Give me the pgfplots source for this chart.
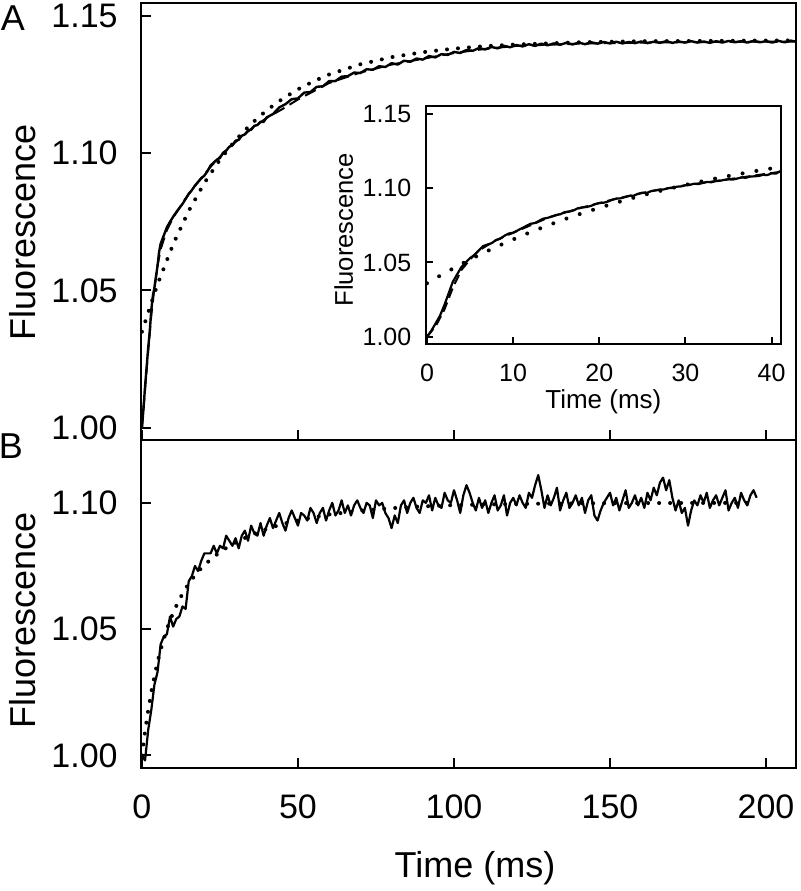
\documentclass[border=0pt]{standalone}
\usepackage{fontspec}
\setmainfont{Liberation Sans}
\usepackage{pgfplots}
\pgfplotsset{compat=1.18}
\pgfplotsset{
  common/.style={
    scale only axis,
    axis line style={line width=1pt},
    every tick/.style={line width=1pt, black},
    tick align=inside,
    xtick pos=bottom, ytick pos=left,
    /pgf/number format/assume math mode=true,
    yticklabel style={/pgf/number format/fixed, /pgf/number format/fixed zerofill, /pgf/number format/precision=2},
    clip=true,
  },
  dat/.style={black, line width=1.2pt, line join=round},
  fitd/.style={black, line width=1pt, dash pattern=on 6pt off 3pt},
  dots/.style={black, line width=2pt, line cap=round, dash pattern=on 0pt off 5.5pt},
}
\begin{document}
\begin{tikzpicture}
\useasboundingbox (0,0) rectangle (400pt,445.5pt);
% ---------------- Panel B ----------------
\begin{axis}[common,
  at={(70.5pt,61.5pt)}, anchor=south west,
  width=327.5pt, height=164pt,
  xmin=-0.3, xmax=209.6, ymin=0.995, ymax=1.1249,
  xtick={0,50,100,150,200}, ytick={1.00,1.05,1.10},
  major tick length=5pt,
  xticklabel style={font=\fontsize{17}{20}\selectfont, anchor=center, yshift=-19.5pt},
  yticklabel style={font=\fontsize{17}{20}\selectfont, anchor=east, inner sep=0pt, xshift=-11.5pt},
  xlabel={Time (ms)}, ylabel={Fluorescence},
  xlabel style={font=\fontsize{18}{21}\selectfont, at={(axis description cs:0.51,0)}, anchor=center, yshift=-50pt},
  ylabel style={font=\fontsize{18}{21}\selectfont, at={(axis description cs:-0.18,0.451)}, anchor=center},
]
\addplot[dots] coordinates {(0,1.000)(1,1.0095)(2,1.0178)(3,1.0251)(4,1.0313)(5,1.0369)(6,1.0419)(8,1.0501)(10,1.0565)(12,1.0618)(14,1.0661)(16,1.0697)(18,1.0728)(20,1.0754)(23,1.0786)(26,1.0814)(30,1.0843)(35,1.0873)(40,1.0897)(45,1.0916)(50,1.0931)(60,1.0954)(70,1.0969)(80,1.0979)(90,1.0986)(100,1.0991)(120,1.0996)(150,1.0999)(197,1.1000)};
\addplot[black, line width=1.1pt, line join=round] coordinates {
(0,1.000)(1,0.998)(2,1.010)(3,1.018)(4,1.028)(5,1.033)(6,1.044)(7,1.047)(8,1.048)(9,1.055)
(10,1.051)(11,1.054)(12,1.055)(13,1.059)(14,1.058)(15,1.069)(16,1.071)(17,1.075)(18,1.073)(19,1.077)
(20,1.080)(21,1.080)(22,1.080)(23,1.083)(24,1.080)(25,1.083)(26,1.082)(27,1.087)(28,1.085)(29,1.083)
(30,1.086)(31,1.082)(32,1.087)(33,1.089)(34,1.085)(35,1.091)(36,1.088)(37,1.087)(38,1.092)(39,1.087)
(40,1.091)(41,1.094)(42,1.090)(43,1.093)(44,1.096)(45,1.092)(46,1.089)(47,1.094)(48,1.097)(49,1.094)
(50,1.091)(51,1.096)(52,1.095)(53,1.093)(54,1.098)(55,1.096)(56,1.092)(57,1.096)(58,1.098)(59,1.093)
(60,1.097)(61,1.100)(62,1.095)(63,1.097)(64,1.101)(65,1.096)(66,1.099)(67,1.095)(68,1.099)(69,1.101)
(70,1.098)(71,1.096)(72,1.100)(73,1.099)(74,1.094)(75,1.101)(76,1.099)(77,1.100)(78,1.096)(79,1.094)
(80,1.090)(81,1.095)(82,1.092)(83,1.099)(84,1.101)(85,1.096)(86,1.100)(87,1.102)(88,1.098)(89,1.096)
(90,1.101)(91,1.100)(92,1.103)(93,1.097)(94,1.102)(95,1.099)(96,1.098)(97,1.104)(98,1.101)(99,1.100)
(100,1.105)(101,1.101)(102,1.096)(103,1.103)(104,1.107)(105,1.104)(106,1.100)(107,1.097)(108,1.102)(109,1.098)
(110,1.101)(111,1.096)(112,1.100)(113,1.103)(114,1.097)(115,1.099)(116,1.103)(117,1.095)(118,1.100)(119,1.102)
(120,1.099)(121,1.103)(122,1.100)(123,1.098)(124,1.104)(125,1.102)(126,1.107)(127,1.111)(128,1.105)(129,1.098)
(130,1.103)(131,1.099)(132,1.102)(133,1.106)(134,1.097)(135,1.101)(136,1.104)(137,1.098)(138,1.100)(139,1.103)
(140,1.099)(141,1.102)(142,1.096)(143,1.101)(144,1.103)(145,1.095)(146,1.093)(147,1.097)(148,1.100)(149,1.102)
(150,1.104)(151,1.099)(152,1.102)(153,1.097)(154,1.101)(155,1.105)(156,1.098)(157,1.100)(158,1.103)(159,1.099)
(160,1.102)(161,1.098)(162,1.104)(163,1.101)(164,1.106)(165,1.103)(166,1.108)(167,1.110)(168,1.105)(169,1.109)
(170,1.102)(171,1.097)(172,1.101)(173,1.096)(174,1.098)(175,1.091)(176,1.097)(177,1.101)(178,1.099)(179,1.103)
(180,1.100)(181,1.104)(182,1.098)(183,1.101)(184,1.103)(185,1.099)(186,1.102)(187,1.105)(188,1.097)(189,1.100)
(190,1.102)(191,1.098)(192,1.104)(193,1.101)(194,1.099)(195,1.103)(196,1.105)(197,1.102)};
\end{axis}
% ---------------- Panel A ----------------
\begin{axis}[common,
  at={(70.5pt,225.5pt)}, anchor=south west,
  width=327.5pt, height=218.5pt,
  xmin=-0.3, xmax=209.6, ymin=0.9956, ymax=1.1546,
  xtick={0,50,100,150,200}, xticklabels={},
  ytick={1.00,1.05,1.10,1.15},
  major tick length=5pt,
  yticklabel style={font=\fontsize{17}{20}\selectfont, anchor=east, inner sep=0pt, xshift=-11.5pt},
  ylabel={Fluorescence},
  ylabel style={font=\fontsize{18}{21}\selectfont, at={(axis description cs:-0.18,0.474)}, anchor=center},
]
\addplot[dots] coordinates {(0,1.035)(5,1.0523)(10,1.0668)(15,1.0790)(20,1.0891)(25,1.0976)(30,1.1047)(35,1.1106)(40,1.1156)(45,1.1197)(50,1.1232)(55,1.1261)(60,1.1286)(70,1.1323)(80,1.1349)(90,1.1367)(100,1.1380)(110,1.1389)(120,1.1395)(140,1.1403)(160,1.1407)(180,1.1408)(210,1.1410)};
\addplot[fitd] coordinates {(0,1.000)(1,1.014)(2,1.028)(3,1.041)(4,1.051)(5,1.059)(6,1.065)(8,1.072)(10,1.0765)(14,1.0835)(18,1.0895)(22,1.095)(26,1.0998)(30,1.104)(35,1.1088)(40,1.1128)(45,1.116)(50,1.1195)(55,1.1225)(60,1.1255)(70,1.1293)(80,1.1322)(90,1.1343)(100,1.1364)(110,1.1379)(120,1.139)(140,1.1398)(160,1.1402)(180,1.1404)(210,1.1406)};
\addplot[dat] coordinates {
(0,1.000)(0.5,1.007)(1,1.015)(1.5,1.022)(2,1.029)(2.5,1.035)(3,1.043)(3.5,1.048)(4,1.051)(4.5,1.055)(5,1.059)(5.5,1.064)(6,1.067)(7,1.070)(8,1.073)(9,1.075)(10,1.0768)(11,1.0785)(12,1.080)(13,1.0815)(14,1.0833)(15,1.0852)(16,1.0865)(17,1.0882)(18,1.0895)(19,1.0908)
(20,1.0918)(21,1.0934)(22,1.0955)(23,1.0965)(24,1.0976)(25,1.0982)(26,1.1001)(27,1.1009)(28,1.1023)(29,1.1028)(30,1.1045)(31,1.1048)(32,1.1063)(33,1.1068)(34,1.1082)(35,1.1085)(36,1.1099)(37,1.1102)(38,1.1114)(39,1.1113)
(40,1.1130)(42,1.1142)(44,1.1166)(46,1.1178)(48,1.1196)(50,1.1199)(52,1.1220)(54,1.1222)(56,1.1241)(58,1.1243)(60,1.1262)(62,1.1262)(64,1.1278)(66,1.1280)(68,1.1293)(70,1.1291)(72,1.1305)(74,1.1303)(76,1.1316)(78,1.1313)
(80,1.1327)(82,1.1322)(84,1.1336)(86,1.1332)(88,1.1344)(90,1.1340)(92,1.1353)(94,1.1348)(96,1.1360)(98,1.1357)(100,1.1368)(102,1.1364)(104,1.1375)(106,1.1372)(108,1.1382)(110,1.1377)(112,1.1386)(114,1.1381)(116,1.1390)(118,1.1385)
(120,1.1393)(122,1.1388)(124,1.1396)(126,1.1390)(128,1.1398)(130,1.1392)(132,1.1399)(134,1.1394)(136,1.1401)(138,1.1395)(140,1.1402)(142,1.1396)(144,1.1403)(146,1.1398)(148,1.1404)(150,1.1399)(152,1.1405)(154,1.1399)(156,1.1404)(158,1.1400)
(160,1.1406)(162,1.1400)(164,1.1405)(166,1.1401)(168,1.1407)(170,1.1401)(172,1.1406)(174,1.1402)(176,1.1407)(178,1.1402)(180,1.1406)(182,1.1401)(184,1.1407)(186,1.1402)(188,1.1408)(190,1.1403)(192,1.1407)(194,1.1402)(196,1.1408)(198,1.1403)
(200,1.1407)(202,1.1402)(204,1.1408)(206,1.1403)(208,1.1409)(210,1.1404)};
\end{axis}
% ---------------- Inset ----------------
\begin{axis}[common,
  at={(212.85pt,273.5pt)}, anchor=south west,
  width=177.7pt, height=119.2pt,
  axis background/.style={fill=white},
  xmin=-0.15, xmax=41.1, ymin=0.9951, ymax=1.1556,
  xtick={0,10,20,30,40}, ytick={1.00,1.05,1.10,1.15},
  major tick length=3.5pt,
  xticklabel style={font=\fontsize{12.5}{14}\selectfont, anchor=center, yshift=-14.5pt},
  yticklabel style={font=\fontsize{12.5}{14}\selectfont, anchor=east, inner sep=0pt, xshift=-7pt},
  xlabel={Time (ms)}, ylabel={Fluorescence},
  xlabel style={font=\fontsize{13}{15}\selectfont, at={(axis description cs:0.5,0)}, anchor=center, yshift=-29pt},
  ylabel style={font=\fontsize{12.8}{15}\selectfont, at={(axis description cs:-0.231,0.479)}, anchor=center},
]
\addplot[dots, dash pattern=on 0pt off 7pt] coordinates {(0,1.036)(2,1.0427)(4,1.0490)(6,1.0549)(8,1.0604)(10,1.0655)(12,1.0704)(14,1.0749)(16,1.0792)(18,1.0831)(20,1.0868)(22,1.0903)(24,1.0936)(26,1.0967)(28,1.0995)(30,1.1022)(32,1.1047)(34,1.1071)(36,1.1093)(38,1.1114)(40,1.1133)(41.1,1.1142)};
\addplot[fitd, dash pattern=on 5pt off 2.5pt] coordinates {(0,1.000)(1,1.007)(2,1.018)(3,1.033)(4,1.045)(5,1.052)(6,1.058)(8,1.065)(10,1.070)(14,1.080)(18,1.087)(22,1.093)(26,1.098)(30,1.102)(35,1.106)(41,1.111)};
\addplot[dat, line width=1.1pt] coordinates {
(0,1.000)(0.5,1.004)(1,1.009)(1.5,1.014)(2,1.021)(2.5,1.029)(3,1.037)(3.5,1.042)(4,1.047)(4.5,1.050)(5,1.053)(5.5,1.055)(6,1.058)(6.5,1.061)(7,1.062)(7.5,1.063)(8,1.065)(8.5,1.066)(9,1.068)(9.5,1.0695)
(10,1.070)(10.5,1.0715)(11,1.073)(11.5,1.0745)(12,1.076)(12.5,1.0765)(13,1.078)(13.5,1.0795)(14,1.080)(14.5,1.081)(15,1.082)(15.5,1.0825)(16,1.084)(16.5,1.0842)(17,1.085)(17.5,1.0865)(18,1.087)(18.5,1.0873)(19,1.088)(19.5,1.0892)
(20,1.090)(20.5,1.0902)(21,1.091)(21.5,1.0922)(22,1.093)(22.5,1.0932)(23,1.094)(23.5,1.0948)(24,1.095)(24.5,1.0962)(25,1.097)(25.5,1.0968)(26,1.098)(26.5,1.0985)(27,1.099)(27.5,1.0992)(28,1.100)(28.5,1.1002)(29,1.101)(29.5,1.1012)
(30,1.102)(30.5,1.1022)(31,1.103)(31.5,1.1028)(32,1.1035)(32.5,1.1042)(33,1.104)(33.5,1.1048)(34,1.105)(34.5,1.1056)(35,1.106)(35.5,1.1058)(36,1.1065)(36.5,1.1072)(37,1.107)(37.5,1.1078)(38,1.108)(38.5,1.1082)(39,1.109)(39.5,1.1088)
(40,1.110)(40.5,1.1098)(41,1.1115)};
\end{axis}
\node[font=\fontsize{18}{20}\selectfont] at (6.5pt,436.5pt) {A};
\node[font=\fontsize{18}{20}\selectfont] at (5.5pt,222.5pt) {B};
\end{tikzpicture}
\end{document}
